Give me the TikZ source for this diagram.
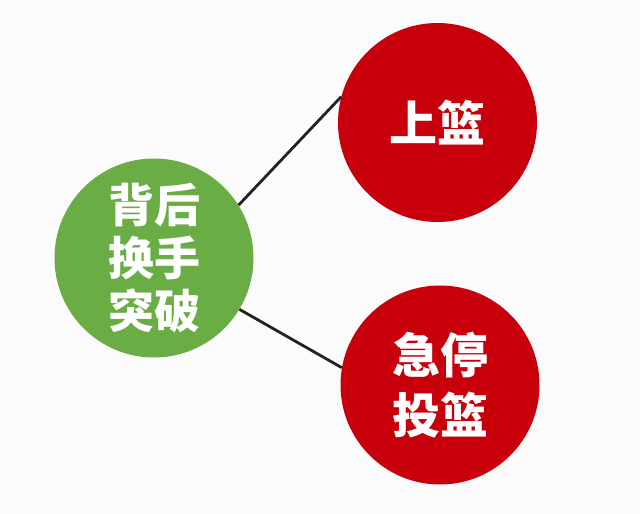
\documentclass[tikz,border=0pt]{standalone}
\usepackage{fontspec}
\newfontfamily\cjk{Noto Sans CJK SC}[BoldFont={Noto Sans CJK SC Black}]
\definecolor{bgc}{HTML}{FBFBFB}
\definecolor{gfill}{HTML}{6AAD45}
\definecolor{rfill}{HTML}{C8000B}
\definecolor{linec}{HTML}{222222}
\tikzset{
  bubble/.style={circle, inner sep=0pt, minimum size=199pt, text=white, align=center, font=\cjk\bfseries},
  greenbubble/.style={bubble, fill=gfill},
  redbubble/.style={bubble, fill=rfill},
  link/.style={draw=linec, line width=2.8pt}
}
\begin{document}
\begin{tikzpicture}[x=1pt,y=-1pt]
\fill[bgc] (0,0) rectangle (640,514);
\useasboundingbox (0,0) rectangle (640,514);
\node[greenbubble, font=\cjk\bfseries\fontsize{46}{53}\selectfont] (g) at (154,258) {背后\\换手\\突破};
\node[redbubble, font=\cjk\bfseries\fontsize{48}{60}\selectfont] (r1) at (437.5,122.5) {上篮};
\node[redbubble, font=\cjk\bfseries\fontsize{48}{60}\selectfont] (r2) at (440,385) {急停\\投篮};
\draw[link] (g.32) -- (r1.165);
\draw[link] (g.-31) -- (r2.170);
\end{tikzpicture}
\end{document}
